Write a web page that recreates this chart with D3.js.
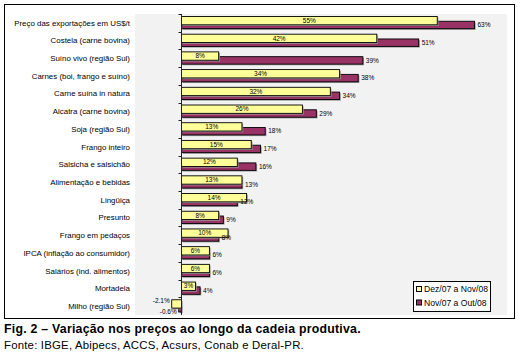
<!DOCTYPE html>
<html><head><meta charset="utf-8">
<script src="https://cdn.jsdelivr.net/npm/d3@7/dist/d3.min.js"></script>
<style>body{margin:0;background:#fff}svg{display:block}</style>
</head><body>
<script>
const categories = ["Preço das exportações em US$/t","Costela (carne bovina)","Suíno vivo (região Sul)","Carnes (boi, frango e suíno)","Carne suína in natura","Alcatra (carne bovina)","Soja (região Sul)","Frango inteiro","Salsicha e salsichão","Alimentação e bebidas","Lingüiça","Presunto","Frango em pedaços","IPCA (inflação ao consumidor)","Salários (ind. alimentos)","Mortadela","Milho (região Sul)"];
const serie1 = [55,42,8,34,32,26,13,15,12,13,14,8,10,6,6,3,-2.1];   // Dez/07 a Nov/08
const serie2 = [63,51,39,38,34,29,18,17,16,13,12,9,8,6,6,4,-0.6];   // Nov/07 a Out/08
const seriesNames = ["Dez/07 a Nov/08","Nov/07 a Out/08"];
const colors = ["#ffff99","#993366"];
const xDomain = [-10,70];
const captionTitle = "Fig. 2 – Variação nos preços ao longo da cadeia produtiva.";
const captionSource = "Fonte: IBGE, Abipecs, ACCS, Acsurs, Conab e Deral-PR.";

const W=520,H=356;
const svg=d3.select("body").append("svg").attr("width",W).attr("height",H);
const FF="'Liberation Sans', Arial, sans-serif";

// outer frame
svg.append("rect").attr("x",4.5).attr("y",4.5).attr("width",510).attr("height",314)
  .attr("fill","#fff").attr("stroke","#000").attr("stroke-width",1);

const x=d3.scaleLinear().domain(xDomain).range([135,507]);
const y=d3.scaleBand().domain(categories).range([14,315]);

// plot area
svg.append("rect").attr("x",x.range()[0]).attr("y",y.range()[0])
  .attr("width",x.range()[1]-x.range()[0]).attr("height",y.range()[1]-y.range()[0])
  .attr("fill","#f2f2f2");

// category labels
svg.append("g").selectAll("text").data(categories).join("text")
  .attr("x",130).attr("y",d=>y(d)+y.bandwidth()/2+2.8)
  .attr("text-anchor","end").attr("font-family",FF).attr("font-size",7.9)
  .text(d=>d);

const fmt=d=>(Number.isInteger(d)?d:d.toFixed(1))+"%";
const bw=y.bandwidth();
const rows=categories.map((c,i)=>({c,a:serie1[i],b:serie2[i]}));

// series 2 (behind)
const g2=svg.append("g");
g2.selectAll("rect.sh").data(rows).join("rect")
  .attr("x",d=>Math.min(x(0),x(d.b))+1.2).attr("y",d=>y(d.c)+bw*0.41+1.2)
  .attr("width",d=>Math.abs(x(d.b)-x(0))).attr("height",bw*0.42).attr("fill","#9a9a9a");
g2.selectAll("rect.b").data(rows).join("rect")
  .attr("x",d=>Math.min(x(0),x(d.b))).attr("y",d=>y(d.c)+bw*0.41)
  .attr("width",d=>Math.abs(x(d.b)-x(0))).attr("height",bw*0.42)
  .attr("fill",colors[1]).attr("stroke","#000").attr("stroke-width",0.9);

// series 1 (front)
const g1=svg.append("g");
g1.selectAll("rect.sh").data(rows).join("rect")
  .attr("x",d=>Math.min(x(0),x(d.a))+1.2).attr("y",d=>y(d.c)+bw*0.14+1.2)
  .attr("width",d=>Math.abs(x(d.a)-x(0))).attr("height",bw*0.47).attr("fill","#9a9a9a");
g1.selectAll("rect.a").data(rows).join("rect")
  .attr("x",d=>Math.min(x(0),x(d.a))).attr("y",d=>y(d.c)+bw*0.14)
  .attr("width",d=>Math.abs(x(d.a)-x(0))).attr("height",bw*0.47)
  .attr("fill",colors[0]).attr("stroke","#000").attr("stroke-width",0.9);

// axis line + ticks
svg.append("line").attr("x1",x(0)).attr("x2",x(0)).attr("y1",y.range()[0]).attr("y2",y.range()[1])
  .attr("stroke","#222").attr("stroke-width",1);
svg.append("g").selectAll("line").data(categories).join("line")
  .attr("x1",x(0)-3).attr("x2",x(0)).attr("y1",d=>Math.round(y(d))+0.5).attr("y2",d=>Math.round(y(d))+0.5)
  .attr("stroke","#222");

// value labels
svg.append("g").selectAll("text").data(rows).join("text")
  .attr("x",d=>d.a>=0?(x(0)+x(d.a))/2:x(d.a)-2)
  .attr("y",d=>d.a>=0?y(d.c)+bw*0.375+2.2:y(d.c)+bw*0.3)
  .attr("text-anchor",d=>d.a>=0?"middle":"end")
  .attr("font-family",FF).attr("font-size",6.5).text(d=>fmt(d.a));
svg.append("g").selectAll("text").data(rows).join("text")
  .attr("x",d=>d.b>=0?x(d.b)+3:x(d.b)-2)
  .attr("y",d=>d.b>=0?y(d.c)+bw*0.62+2.2:y(d.c)+bw*0.92)
  .attr("text-anchor",d=>d.b>=0?"start":"end")
  .attr("font-family",FF).attr("font-size",6.5).text(d=>fmt(d.b));

// legend
const lg=svg.append("g").attr("transform","translate(413,281)");
lg.append("rect").attr("x",0.5).attr("y",0.5).attr("width",77).attr("height",30)
  .attr("fill","#fff").attr("stroke","#000");
seriesNames.forEach((n,i)=>{
  lg.append("rect").attr("x",3.5).attr("y",5.5+i*13.5).attr("width",5).attr("height",5)
    .attr("fill",colors[i]).attr("stroke","#000");
  lg.append("text").attr("x",11).attr("y",11+i*13.5).attr("font-family",FF).attr("font-size",8.6).text(n);
});

// captions
svg.append("text").attr("x",4).attr("y",333).attr("font-family",FF).attr("font-weight","bold")
  .attr("font-size",12.3).attr("letter-spacing",0.25).text(captionTitle);
svg.append("text").attr("x",4).attr("y",349).attr("font-family",FF)
  .attr("font-size",11.4).attr("letter-spacing",0.2).text(captionSource);
</script>
</body></html>
